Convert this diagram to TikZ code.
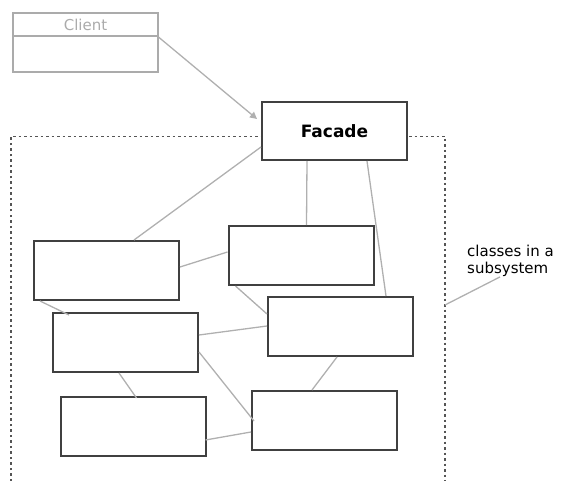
\documentclass[tikz,border=0pt]{standalone}
\usepackage{fontspec}
\setmainfont{DejaVu Sans}
\usetikzlibrary{calc,arrows.meta}
\definecolor{boxline}{HTML}{404040}
\definecolor{conn}{HTML}{B0B0B0}
\definecolor{clientline}{HTML}{ABABAB}
\definecolor{dots}{HTML}{555555}
\tikzset{
  cls/.style={draw=boxline, line width=2pt, fill=white, minimum width=145pt, minimum height=59pt, inner sep=0pt},
  link/.style={draw=conn, line width=1.3pt},
  boundary/.style={draw=dots, line width=1.2pt, dash pattern=on 2.5pt off 3pt},
}
\begin{document}
\begin{tikzpicture}[x=1pt,y=-1pt]
\useasboundingbox (0,0) rectangle (562,481);
% subsystem boundary
\draw[boundary] (11,481) -- (11,136.5) -- (445,136.5) -- (445,481);
% client
\node[draw=clientline, line width=1.5pt, minimum width=145pt, minimum height=59pt, inner sep=0pt] (client) at (85.5,42.5) {};
\draw[draw=clientline, line width=1.5pt] ($(client.north west)+(0,24)$) -- ($(client.north east)+(0,24)$);
\node[text=clientline, font=\fontsize{15}{18}\selectfont] (clienttxt) at (85.5,25) {Client};
% facade
\node[cls, minimum height=58pt, font=\bfseries\fontsize{17}{20}\selectfont] (facade) at (334.5,131) {Facade};
% subsystem classes
\node[cls] (b1) at (106.5,270.5) {};
\node[cls] (b2) at (301,255.5) {};
\node[cls] (b3) at (125.5,342.5) {};
\node[cls] (b4) at (340.5,326.5) {};
\node[cls] (b5) at (133,426.5) {};
\node[cls] (b6) at (324.5,420.5) {};
% note
\node[align=left, font=\fontsize{15}{17}\selectfont, inner sep=0pt, anchor=north west] (note) at (467,245) {classes in a\\subsystem};
\coordinate (notept) at (445,305);
% client -> facade
\draw[link, -{Triangle[width=7pt,length=7pt]}] ($(client.north east)+(0,25)$) -- ($(facade.west)+(-4,-12)$);
% connectors
\draw[link] ($(facade.west)+(0,16)$) -- ($(b1.north west)+(101,0)$);
\draw[link] ($(facade.south west)+(46,0)$) -- ($(b2.north west)+(79,0)$);
\draw[link] ($(facade.south west)+(106,0)$) -- ($(b4.north west)+(119,0)$);
\draw[link] ($(b1.north east)+(0,27)$) -- ($(b2.north west)+(0,27)$);
\draw[link] ($(b1.south west)+(7,0)$) -- ($(b3.north west)+(17,3)$);
\draw[link] ($(b2.south west)+(8,0)$) -- ($(b4.north west)+(0,18)$);
\draw[link] ($(b3.north east)+(0,23)$) -- ($(b4.north west)+(0,30)$);
\draw[link] ($(b3.south west)+(67,0)$) -- ($(b5.north west)+(77,2)$);
\draw[link] ($(b3.north east)+(0,40)$) -- ($(b6.north west)+(3,31)$);
\draw[link] ($(b4.south west)+(70,0)$) -- ($(b6.north west)+(61,0)$);
\draw[link] ($(b5.north east)+(-1,44)$) -- ($(b6.north west)+(0,42)$);
\draw[link] ($(note.south west)+(33,0)$) -- (notept);
\end{tikzpicture}
\end{document}
